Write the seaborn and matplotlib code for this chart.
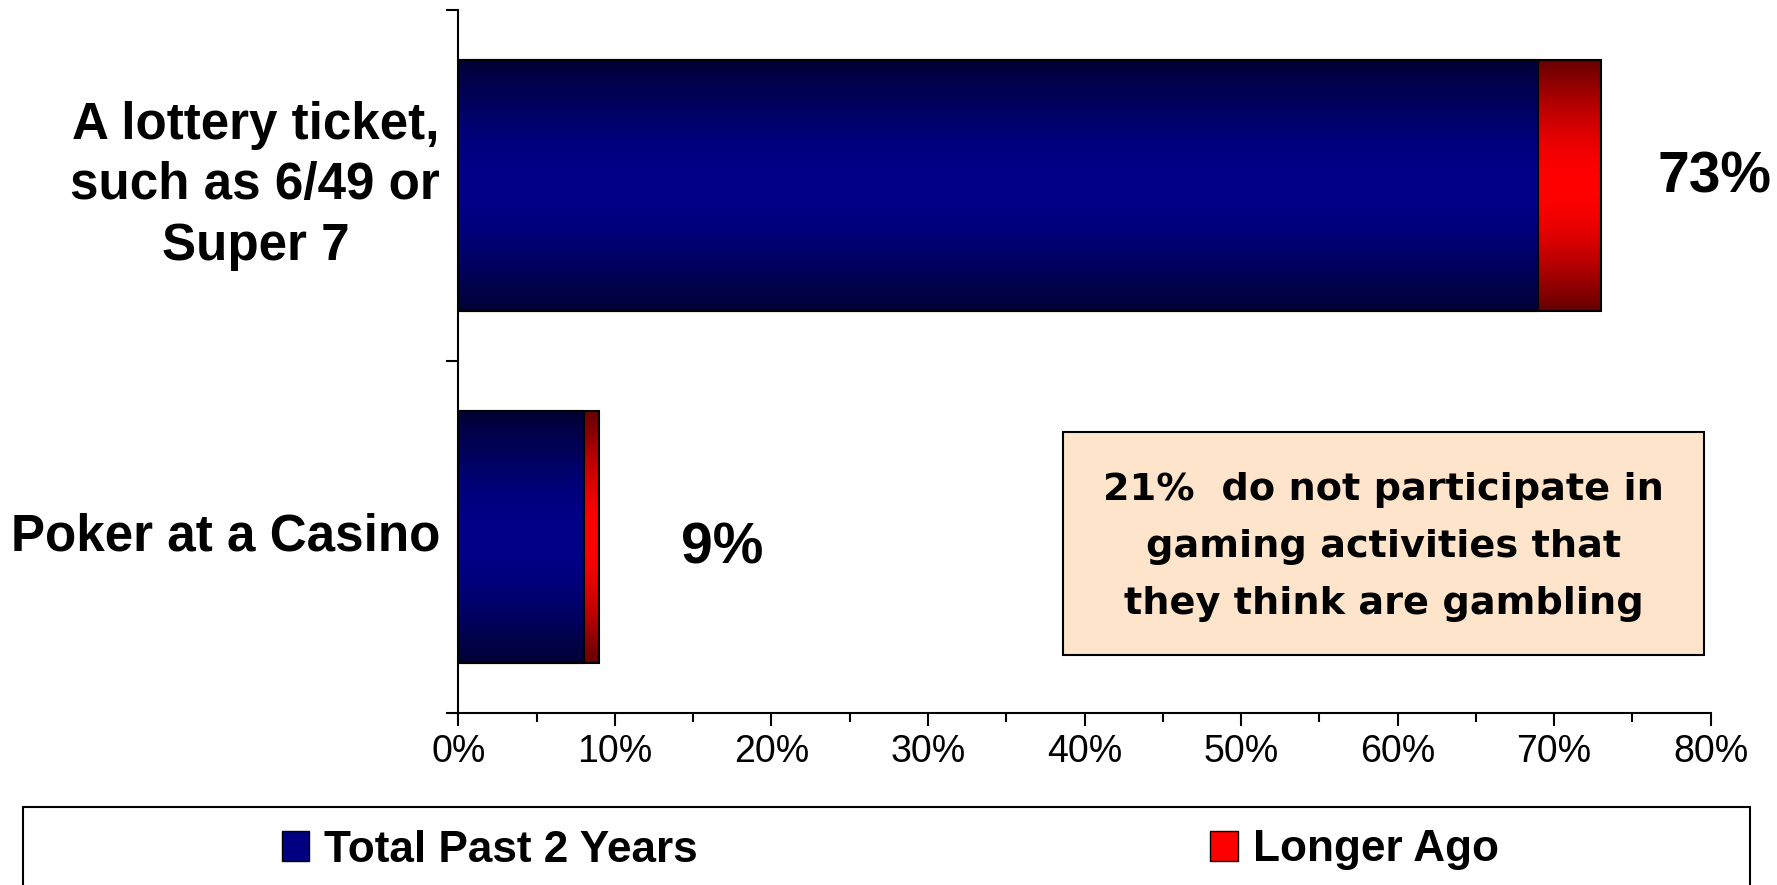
import numpy as np
import pandas as pd
import seaborn as sns
import matplotlib
matplotlib.use("Agg")
import matplotlib.pyplot as plt
from matplotlib.patches import Rectangle, Patch
from matplotlib.colors import to_rgb

# ---------------- data ----------------
categories = ["A lottery ticket,\nsuch as 6/49 or\nSuper 7", "Poker at a Casino"]
past_two_years = [69, 8]
longer_ago = [4, 1]
total_labels = ["73%", "9%"]
series_names = ["Total Past 2 Years", "Longer Ago"]
x_ticks = [0, 10, 20, 30, 40, 50, 60, 70, 80]
x_tick_labels = ["0%", "10%", "20%", "30%", "40%", "50%", "60%", "70%", "80%"]
note_text = "21%  do not participate in\ngaming activities that\nthey think are gambling"

# ---------------- style ----------------
sns.set_theme(style="ticks")
plt.rcParams["font.family"] = ["Liberation Sans", "DejaVu Sans"]
plt.rcParams["text.color"] = "black"

W, H = 1777, 885
fig = plt.figure(figsize=(W / 100, H / 100), dpi=100)
fig.patch.set_facecolor("white")
ax = fig.add_axes([458.3 / W, 1 - 712.7 / H, (1710.7 - 458.3) / W, (712.7 - 10) / H])
ax.set_facecolor("none")

df = pd.DataFrame({"category": categories,
                   "past": past_two_years,
                   "longer": longer_ago})
df["total"] = df["past"] + df["longer"]

BAR_W = 0.716
sns.barplot(data=df, x="total", y="category", orient="h", color="#FF0000",
            saturation=1, width=BAR_W, errorbar=None, edgecolor="black",
            linewidth=1.5, ax=ax)
n_red = len(ax.patches)
sns.barplot(data=df, x="past", y="category", orient="h", color="#000080",
            saturation=1, width=BAR_W, errorbar=None, edgecolor="black",
            linewidth=1.5, ax=ax)
red_patches = list(ax.patches[:n_red])
blue_patches = list(ax.patches[n_red:])


def gradient_fill(patch, dark, bright, z):
    bb = patch.get_bbox()
    t = np.linspace(0, 1, 256)
    w = np.sin(np.pi * t) ** 1.1
    d = np.array(to_rgb(dark))
    b = np.array(to_rgb(bright))
    img = (d + (b - d) * w[:, None])[:, None, :]
    im = ax.imshow(img, extent=(bb.x0, bb.x1, bb.y1, bb.y0), aspect="auto",
                   interpolation="bilinear", zorder=z)
    im.set_clip_path(patch)
    patch.set_facecolor("none")
    patch.set_zorder(3)


for p in red_patches:
    gradient_fill(p, "#680000", "#FF0000", 1.5)
for p in blue_patches:
    gradient_fill(p, "#000036", "#000088", 1.6)

ax.set_xlim(0, 80)
ax.set_ylim(1.5, -0.5)
ax.set_aspect("auto")

# ---------------- axes styling ----------------
for s in ["top", "right"]:
    ax.spines[s].set_visible(False)
for s in ["left", "bottom"]:
    ax.spines[s].set_linewidth(1.5)
    ax.spines[s].set_color("black")

ax.set_xticks(x_ticks)
ax.set_xticklabels(x_tick_labels, fontsize=27, color="black")
ax.set_xticks(np.arange(5, 80, 10), minor=True)
ax.tick_params(axis="x", which="major", direction="out", length=9, width=1.5,
               pad=6, colors="black", bottom=True)
ax.tick_params(axis="x", which="minor", direction="out", length=6.5,
               width=1.5, colors="black", bottom=True)

ax.set_yticks([0, 1])
ax.set_yticklabels(categories, fontsize=36.8, fontweight="bold", color="black")
ax.set_yticks([-0.5, 0.5, 1.5], minor=True)
ax.tick_params(axis="y", which="major", length=0, pad=13, left=True)
ax.tick_params(axis="y", which="minor", direction="out", length=9, width=1.5,
               colors="black", left=True)
for t in ax.get_yticklabels():
    t.set_multialignment("center")
    t.set_linespacing(1.3)
    t.set_verticalalignment("center")

ax.set_xlabel("")
ax.set_ylabel("")

# ---------------- value labels ----------------
label_dx = [3.6, 5.2]
label_dy = [0.02, 0.074]
totals = df["total"].tolist()
for i, (tot, lab) in enumerate(zip(totals, total_labels)):
    ax.text(tot + label_dx[i], i + label_dy[i], lab, fontsize=41,
            fontweight="bold", ha="left", va="baseline", color="black",
            zorder=5)

# ---------------- note box ----------------
bx0, bx1, by0, by1 = 38.65, 79.6, 0.700, 1.336
ax.add_patch(Rectangle((bx0, by0), bx1 - bx0, by1 - by0, facecolor="#FDE4CA",
                       edgecolor="black", linewidth=1.5, zorder=4,
                       clip_on=False))
ax.text((bx0 + bx1) / 2, 1.027, note_text, ha="center", va="center",
        multialignment="center", fontsize=27.5, fontweight="bold",
        family="DejaVu Sans", linespacing=1.75, color="black", zorder=5)

# ---------------- legend ----------------
fig.add_artist(Rectangle((22.7 / W, -0.05), (1750 - 22.7) / W,
                         (1 - 807 / H) + 0.05, transform=fig.transFigure,
                         facecolor="white", edgecolor="black", linewidth=1.5,
                         zorder=1))
handles = [Patch(facecolor="#000080", edgecolor="black", linewidth=1),
           Patch(facecolor="#FF0000", edgecolor="black", linewidth=1)]
leg = fig.legend(handles, series_names, loc="center left",
                 bbox_to_anchor=(282 / W, 1 - 850 / H), ncol=2,
                 frameon=False, borderpad=0, borderaxespad=0,
                 handlelength=0.62, handleheight=0.69, handletextpad=0.34,
                 columnspacing=11.6, labelcolor="black",
                 prop=dict(family="Liberation Sans", weight="bold", size=31.8))
leg.set_zorder(5)

fig.savefig("out.png", dpi=100)
